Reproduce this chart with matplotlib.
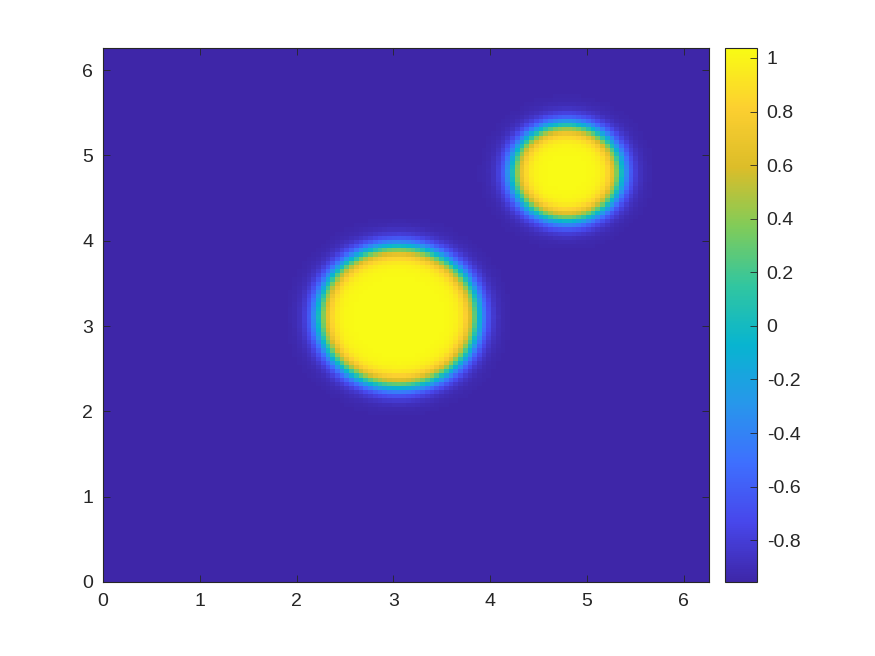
import numpy as np
import matplotlib.pyplot as plt
from matplotlib.colors import LinearSegmentedColormap

# domain and grid
x_max = 6.26
n_cells = 128

# two droplets: centre x, centre y, radius
centers_x = [3.05, 4.79]
centers_y = [3.11, 4.80]
radii = [0.82, 0.56]
width = 0.125         # interface width
phase_in = 1.037
phase_out = -0.956

# parula(10) anchors
parula_colors = [
    (0.2422, 0.1504, 0.6603), (0.2803, 0.2782, 0.9221), (0.2440, 0.4358, 0.9988),
    (0.1540, 0.5902, 0.9218), (0.0297, 0.7082, 0.8163), (0.1938, 0.7758, 0.6251),
    (0.5044, 0.7993, 0.3480), (0.8634, 0.7406, 0.1596), (0.9892, 0.8136, 0.1885),
    (0.9769, 0.9839, 0.0805),
]
parula = LinearSegmentedColormap.from_list('parula', parula_colors, N=256)

edges = np.linspace(0, x_max, n_cells + 1)
mid = 0.5 * (edges[:-1] + edges[1:])
X, Y = np.meshgrid(mid, mid)
u = np.full(X.shape, -1.0)
for cx, cy, r in zip(centers_x, centers_y, radii):
    d = np.hypot(X - cx, Y - cy)
    u = np.maximum(u, np.tanh((r - d) / width))
u = phase_out + (u + 1) / 2 * (phase_in - phase_out)

plt.rcParams['font.family'] = ['Liberation Sans', 'DejaVu Sans']
fig = plt.figure(figsize=(8.75, 6.56), dpi=100)
ax = fig.add_axes([103 / 875, 74 / 656, 606 / 875, 534 / 656])
cax = fig.add_axes([725 / 875, 74 / 656, 32 / 875, 534 / 656])

mesh = ax.pcolormesh(edges, edges, u, cmap=parula, vmin=u.min(), vmax=u.max(),
                     shading='flat')
ax.set_xlim(0, x_max)
ax.set_ylim(0, x_max)
ax.set_xticks(range(7))
ax.set_yticks(range(7))
ax.tick_params(direction='in', top=True, right=True, length=5, width=0.6,
               colors='#262626', labelsize=14)
ax.tick_params(axis='x', pad=8)
ax.tick_params(axis='y', pad=7)
for s in ax.spines.values():
    s.set_color('#262626')
    s.set_linewidth(0.8)

cb = fig.colorbar(mesh, cax=cax)
cb.set_ticks(np.round(np.arange(-0.8, 1.01, 0.2), 1))
cb.set_ticklabels(['-0.8', '-0.6', '-0.4', '-0.2', '0', '0.2', '0.4', '0.6', '0.8', '1'])
cax.tick_params(direction='in', length=5, width=0.6, colors='#262626',
                labelsize=14, pad=7)
cb.outline.set_edgecolor('#262626')
cb.outline.set_linewidth(0.8)

fig.savefig('out.png', dpi=100)
